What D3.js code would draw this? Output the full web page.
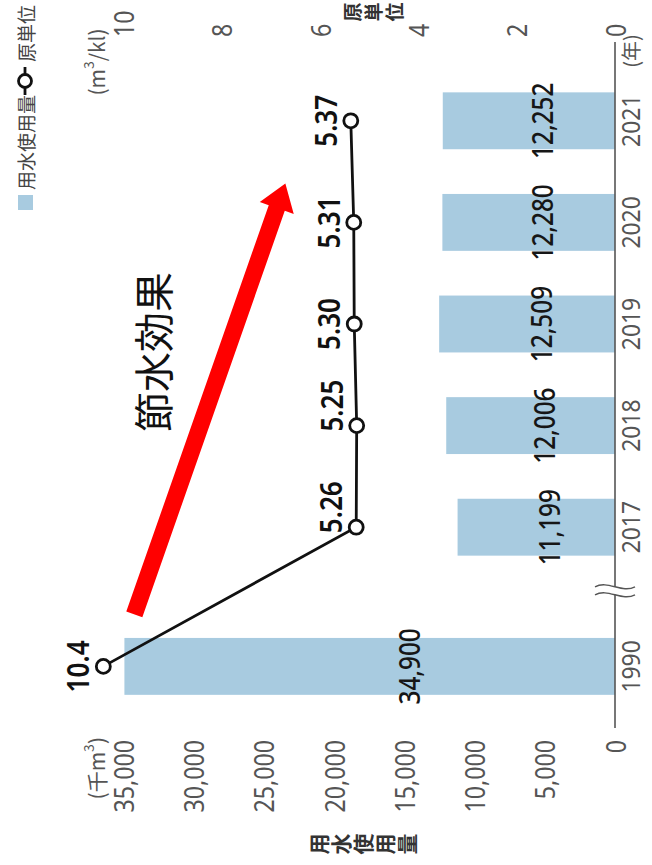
<!DOCTYPE html>
<html><head><meta charset="utf-8">
<script src="https://cdn.jsdelivr.net/npm/d3@7"></script>
<style>body{margin:0;background:#fff}svg{display:block}</style>
</head><body><svg id="c" width="652" height="865"></svg>
<script>
// ---- data ----
const years = ["1990", "2017", "2018", "2019", "2020", "2021"];
const waterUse = [34900, 11199, 12006, 12509, 12280, 12252];       // 用水使用量 (千m3)
const waterLabels = ["34,900", "11,199", "12,006", "12,509", "12,280", "12,252"];
const unitUse = [10.4, 5.26, 5.25, 5.30, 5.31, 5.37];               // 原単位 (m3/kl)
const unitLabels = ["10.4", "5.26", "5.25", "5.30", "5.31", "5.37"];
const leftTicks = [0, 5000, 10000, 15000, 20000, 25000, 30000, 35000];
const rightTicks = [0, 2, 4, 6, 8, 10];
const leftTitle = "用水使用量";
const rightTitle = "原単位";
const annotation = "節水効果";

// ---- frame (drawn unrotated, then rotated -90deg) ----
const svg = d3.select("#c");
const g = svg.append("g").attr("transform", "translate(0,865) rotate(-90)");
const LATIN = "'Noto Sans', 'DejaVu Sans', sans-serif";
const CJK = "'Noto Sans CJK JP', 'Noto Sans', sans-serif";

const yL = d3.scaleLinear().domain([0, 35000]).range([615, 123]);
const yR = d3.scaleLinear().domain([0, 10]).range([615, 123]);
const recent = years.slice(1);
const xb = d3.scaleBand().domain(recent).range([287, 795]).paddingInner(0.44).paddingOuter(0.22);
const step = xb.step(), bw = xb.bandwidth();
const cx = y => y === years[0] ? xb(recent[0]) + bw / 2 - 1.37 * step : xb(y) + bw / 2;

function txt(parent, x, y, str, o) {
  const gg = parent.append("g").attr("transform", `translate(${x},${y}) scale(${o.sx || 1},1)`);
  return gg.append("text").text(str)
    .attr("font-family", o.ff || LATIN).attr("font-size", o.fs)
    .attr("font-weight", o.fw || 400).attr("fill", o.fill || "#111")
    .attr("text-anchor", o.anchor || "middle")
    .attr("dominant-baseline", o.base || "central");
}

const data = years.map((y, i) => ({ y, w: waterUse[i], wl: waterLabels[i], u: unitUse[i], ul: unitLabels[i] }));

// bars
g.selectAll("rect.bar").data(data).join("rect").attr("class", "bar")
  .attr("x", d => cx(d.y) - bw / 2).attr("width", bw)
  .attr("y", d => yL(d.w)).attr("height", d => yL(0) - yL(d.w))
  .attr("fill", "#a8cbe0");

// bar value labels
data.forEach(d => txt(g, cx(d.y), yL(d.w * 0.42), d.wl, { fs: 28, sx: 0.87, fw: 500, fill: "#161616" }));

// category axis line with break
const axisY = yL(0);
g.append("line").attr("x1", 137).attr("x2", 823).attr("y1", axisY).attr("y2", axisY)
  .attr("stroke", "#555").attr("stroke-width", 1.6);
const bx = (cx(years[0]) + cx(recent[0])) / 2 + 6;
g.append("rect").attr("x", bx - 4).attr("y", axisY - 22).attr("width", 8).attr("height", 44).attr("fill", "#fff");
[-4, 4].forEach(off => {
  const x0 = bx + off, y0 = axisY - 20;
  g.append("path").attr("d", `M${x0},${y0} C${x0 + 7},${y0 + 13} ${x0 - 7},${y0 + 27} ${x0},${y0 + 40}`)
    .attr("fill", "none").attr("stroke", "#555").attr("stroke-width", 1.4);
});

// year labels
data.forEach(d => txt(g, cx(d.y), axisY + 15, d.y, { fs: 26, sx: 0.88, fill: "#555" }));
txt(g, 814, axisY + 15, "(年)", { fs: 20, ff: CJK, fill: "#555" });

// left axis ticks
leftTicks.forEach(v => txt(g, 125, yL(v), d3.format(",")(v), { fs: 27, sx: 0.86, anchor: "end", fill: "#555" }));
const ul = txt(g, 128, yL(35000) - 27, "", { fs: 21, ff: CJK, anchor: "end", fill: "#555" });
ul.append("tspan").text("(千m");
ul.append("tspan").text("3").attr("font-size", 14).attr("dy", -8);
ul.append("tspan").text(")").attr("dy", 8);

// right axis ticks
rightTicks.forEach(v => txt(g, 828, yR(v), String(v), { fs: 27, sx: 0.86, anchor: "start", fill: "#555" }));
const ur = txt(g, 803, yR(10) - 27, "", { fs: 21, ff: CJK, fill: "#555" });
ur.append("tspan").text("(m");
ur.append("tspan").text("3").attr("font-size", 14).attr("dy", -8);
ur.append("tspan").text("/kl)").attr("dy", 8);

// axis titles (vertical, one char per line)
const midY = (yL(0) + yL(35000)) / 2;
[...leftTitle].forEach((ch, i, a) => txt(g, 21, midY - 7 + (i - (a.length - 1) / 2) * 22, ch, { fs: 21, ff: CJK, fw: 700, fill: "#333" }));
[...rightTitle].forEach((ch, i, a) => txt(g, 853, midY + 3 + (i - (a.length - 1) / 2) * 21, ch, { fs: 19, ff: CJK, fw: 700, fill: "#333" }));

// line series
g.append("path").datum(data).attr("fill", "none").attr("stroke", "#111").attr("stroke-width", 2.8)
  .attr("d", d3.line().x(d => cx(d.y)).y(d => yR(d.u)));
g.selectAll("circle.pt").data(data).join("circle").attr("class", "pt")
  .attr("cx", d => cx(d.y)).attr("cy", d => yR(d.u)).attr("r", 7)
  .attr("fill", "#fff").attr("stroke", "#111").attr("stroke-width", 2.8);
const startAnchored = new Set(["2017", "2018"]);
data.forEach(d => {
  const s = startAnchored.has(d.y);
  txt(g, cx(d.y) + (s ? -6 : 0), yR(d.u) - 14, d.ul,
    { fs: 30, sx: 0.87, fw: 600, anchor: s ? "start" : "middle", base: "alphabetic", fill: "#111" });
});

// annotation: arrow + text
const tail = [cx(years[0]) + 52, yR(9.77)];
const tip = [cx("2020") + 39, yR(6.7)];
(function arrow(a, b, sw, hw, hl) {
  const dx = b[0] - a[0], dy = b[1] - a[1], L = Math.hypot(dx, dy);
  const ux = dx / L, uy = dy / L, px = -uy, py = ux;
  const hb = [b[0] - ux * hl, b[1] - uy * hl];
  const P = (p, k) => [p[0] + px * k, p[1] + py * k];
  const pts = [P(a, sw / 2), P(hb, sw / 2), P(hb, hw / 2), b, P(hb, -hw / 2), P(hb, -sw / 2), P(a, -sw / 2)];
  g.append("path").attr("d", "M" + pts.map(p => p.join(",")).join("L") + "Z").attr("fill", "#ff0000");
})(tail, tip, 17, 36, 26);
txt(g, 513, 152, annotation, { fs: 40, ff: CJK, fill: "#111" });

// legend
g.append("rect").attr("x", 655).attr("y", 18).attr("width", 15).attr("height", 15).attr("fill", "#a8cbe0");
txt(g, 675, 25, leftTitle, { fs: 19, ff: CJK, anchor: "start", fill: "#444" });
g.append("line").attr("x1", 770).attr("x2", 798).attr("y1", 25).attr("y2", 25).attr("stroke", "#111").attr("stroke-width", 2.8);
g.append("circle").attr("cx", 784).attr("cy", 25).attr("r", 6.5).attr("fill", "#fff").attr("stroke", "#111").attr("stroke-width", 2.8);
txt(g, 803, 25, rightTitle, { fs: 19, ff: CJK, anchor: "start", fill: "#444" });
</script></body></html>
